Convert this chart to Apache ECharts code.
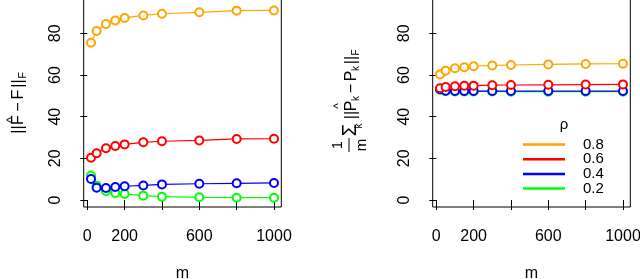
<!DOCTYPE html>
<html><head><meta charset="utf-8">
<script src="https://cdn.jsdelivr.net/npm/echarts@6/dist/echarts.min.js"></script>
<style>html,body{margin:0;padding:0;background:#fff}#c{width:640px;height:279px}</style>
</head><body><div id="c"></div>
<script>
const mValues = [20, 50, 100, 150, 200, 300, 400, 600, 800, 1000];
const rhoLabels = ['0.8', '0.6', '0.4', '0.2'];
const rhoColors = ['#FFA500', '#FF0000', '#0000FF', '#00FF00'];
const leftOrange = [75.5, 81.1, 84.5, 86.2, 87.4, 88.6, 89.4, 90.1, 90.9, 91.0];
const leftRed    = [20.3, 22.4, 24.8, 25.9, 26.7, 27.7, 28.2, 28.6, 29.3, 29.4];
const leftBlue   = [10.1, 5.9, 5.8, 6.2, 6.6, 7.0, 7.5, 7.8, 8.0, 8.2];
const leftGreen  = [11.8, 6.9, 4.3, 3.4, 2.9, 2.1, 1.6, 1.3, 1.1, 1.1];
const rightOrange = [60.3, 62.1, 63.2, 63.7, 64.2, 64.6, 64.8, 65.1, 65.3, 65.4];
const rightRed    = [53.6, 54.2, 54.6, 54.8, 54.9, 55.1, 55.2, 55.3, 55.4, 55.5];
const rightBlue   = [53.2, 52.4, 52.3, 52.3, 52.3, 52.3, 52.3, 52.3, 52.3, 52.3];
const rightGreen  = [52.9, 52.2, 52.1, 52.1, 52.1, 52.1, 52.0, 52.0, 52.0, 52.0];
const xTicks = [0, 200, 400, 600, 800, 1000];
const xLabels = [0, 200, 600, 1000];
const yTicks = [0, 20, 40, 60, 80];

const FONT = '"Liberation Sans", Arial, Helvetica, sans-serif';
const leftData = [leftOrange, leftRed, leftBlue, leftGreen];
const rightData = [rightOrange, rightRed, rightBlue, rightGreen];

function xAxisCfg(gi) {
  return {
    type: 'value', gridIndex: gi, min: -19.2, max: 1039.2,
    axisLine: {show: false}, splitLine: {show: false},
    axisTick: {show: true, length: 10, customValues: xTicks, lineStyle: {color: '#000'}},
    axisLabel: {customValues: xLabels, formatter: v => String(v), color: '#000', fontSize: 16, fontFamily: FONT, margin: 22},
    name: 'm', nameLocation: 'middle', nameGap: 59,
    nameTextStyle: {color: '#000', fontSize: 16, fontFamily: FONT}
  };
}
function yAxisCfg(gi) {
  return {
    type: 'value', gridIndex: gi, min: -3.36, max: 98.4,
    axisLine: {show: false}, splitLine: {show: false},
    axisTick: {show: true, length: 7, customValues: yTicks, lineStyle: {color: '#000'}},
    axisLabel: {customValues: yTicks, formatter: v => String(v), rotate: 90, color: '#000', fontSize: 16, fontFamily: FONT, margin: 20}
  };
}
const series = [];
const order = [3, 2, 1, 0];
[leftData, rightData].forEach((set, gi) => {
  order.forEach(i => {
    series.push({
      type: 'line', name: rhoLabels[i], xAxisIndex: gi, yAxisIndex: gi,
      data: mValues.map((m, k) => [m, set[i][k]]),
      symbol: 'emptyCircle', symbolSize: 8, z: 2 + (3 - i),
      lineStyle: {color: rhoColors[i], width: 1.2},
      itemStyle: {color: rhoColors[i], borderColor: rhoColors[i], borderWidth: 1.2},
      emphasis: {disabled: true}, animation: false
    });
  });
});

function T(text, lx, base, fs, extra) {
  return Object.assign({
    type: 'text', x: lx, y: base - 0.34 * fs,
    style: {text: text, fontSize: fs, fontFamily: FONT, fill: '#000', align: 'center', verticalAlign: 'middle'}
  }, extra || {});
}
const leftTitle = {
  type: 'group', x: 24, y: 132, rotation: Math.PI / 2,
  children: [
    T('||', 2.5, 0, 16), T('^', 12, -8.5, 12), T('F', 12, 0, 16),
    T('\u2212', 25, 0, 16), T('F', 37.5, 0, 16), T('||', 48.5, 0, 16), T('F', 56.5, 3, 11)
  ]
};
const rightTitle = {
  type: 'group', x: 357, y: 160, rotation: Math.PI / 2,
  children: [
    T('1', 15, -14, 14),
    {type: 'line', shape: {x1: 8, y1: -8, x2: 22, y2: -8}, style: {stroke: '#000', lineWidth: 1}},
    T('m', 15, 10, 15),
    T('\u03A3', 30, 0, 20), T('k', 34, 6, 10),
    T('||', 45, 0, 16), T('^', 54, -14, 12), T('P', 54, 0, 16), T('k', 61.5, 3, 10),
    T('\u2212', 71.5, 0, 16), T('P', 84, 0, 16), T('k', 91.5, 3, 10),
    T('||', 100, 0, 16), T('F', 107.5, 3, 10)
  ]
};

const chart = echarts.init(document.getElementById('c'), null, {renderer: 'canvas'});
chart.setOption({
  animation: false,
  grid: [
    {left: 83.7, top: -5, width: 197.6, height: 212, show: true, borderColor: '#000', borderWidth: 1, containLabel: false, outerBoundsMode: 'none'},
    {left: 432.7, top: -5, width: 197.6, height: 212, show: true, borderColor: '#000', borderWidth: 1, containLabel: false, outerBoundsMode: 'none'}
  ],
  xAxis: [xAxisCfg(0), xAxisCfg(1)],
  yAxis: [yAxisCfg(0), yAxisCfg(1)],
  legend: {
    orient: 'vertical', left: 523, top: 137, icon: 'rect', itemWidth: 42, itemHeight: 2.5, itemGap: -0.3,
    selectedMode: false, padding: 0,
    itemStyle: {borderWidth: 0},
    data: rhoLabels.map((n, i) => ({name: n, itemStyle: {color: rhoColors[i], borderWidth: 0}})),
    textStyle: {color: '#000', fontSize: 15, fontFamily: FONT, padding: [0, 0, 0, 13]}
  },
  graphic: [
    leftTitle, rightTitle,
    {type: 'text', x: 564, y: 125, style: {text: '\u03C1', fontSize: 15, fontFamily: FONT, fill: '#000', align: 'center', verticalAlign: 'middle'}}
  ],
  series: series
});
</script></body></html>
